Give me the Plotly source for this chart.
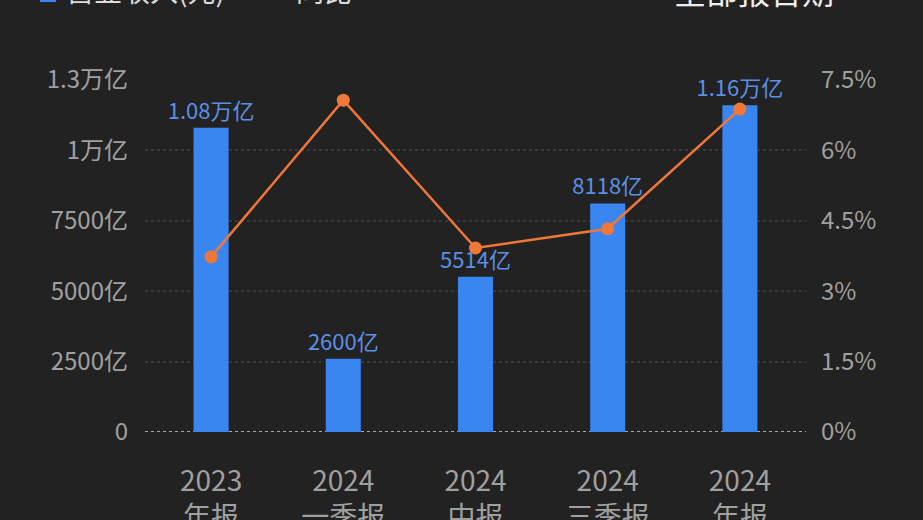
import plotly.graph_objects as go

categories = ["2023<br>年报", "2024<br>一季报", "2024<br>中报", "2024<br>三季报", "2024<br>年报"]
revenue = [10800, 2600, 5514, 8118, 11600]  # 亿元
revenue_labels = ["1.08万亿", "2600亿", "5514亿", "8118亿", "1.16万亿"]
yoy = [3.73, 7.07, 3.92, 4.33, 6.88]  # %

left_ticks = [0, 2500, 5000, 7500, 10000, 12500]
left_text = ["0", "2500亿", "5000亿", "7500亿", "1万亿", "1.3万亿"]
right_ticks = [0, 1.5, 3, 4.5, 6, 7.5]
right_text = ["0%", "1.5%", "3%", "4.5%", "6%", "7.5%"]

bg = "#222222"
blue = "#3a86f0"
orange = "#f0773a"
font_family = "Noto Sans CJK SC, Noto Sans, sans-serif"

fig = go.Figure()

fig.add_trace(go.Bar(
    x=categories,
    y=revenue,
    width=0.265,
    marker=dict(color=blue, line=dict(width=0)),
    text=revenue_labels,
    textposition="outside",
    constraintext="none",
    textfont=dict(color="#5a90e6", size=22, family=font_family),
    cliponaxis=False,
    name="营业收入(元)",
))

fig.add_trace(go.Scatter(
    x=categories,
    y=yoy,
    yaxis="y2",
    mode="lines+markers",
    line=dict(color=orange, width=2.5),
    marker=dict(color=orange, size=13),
    cliponaxis=False,
    name="同比",
))

# W = 923, plot area x 145..806, y 80..432
def px_x(p):
    return (p - 145) / 661.0

def px_y(p):
    return (432 - p) / 352.0

fig.update_layout(
    width=923,
    height=520,
    paper_bgcolor=bg,
    plot_bgcolor=bg,
    showlegend=False,
    margin=dict(l=145, r=117, t=80, b=88),
    font=dict(family=font_family, color="#9a9a9a", size=22),
    xaxis=dict(
        showgrid=False,
        zeroline=False,
        showline=False,
        ticks="",
        automargin=False,
        tickfont=dict(size=28, color="#a0a0a0"),
        ticklabelstandoff=30,
    ),
    yaxis=dict(
        range=[0, 12500],
        tickvals=left_ticks,
        ticktext=left_text,
        showgrid=True,
        gridcolor="#383838",
        griddash="dot",
        gridwidth=1.5,
        zeroline=False,
        showline=False,
        ticks="",
        automargin=False,
        ticklabelstandoff=16,
        tickfont=dict(size=24, color="#a0a0a0"),
    ),
    yaxis2=dict(
        range=[0, 7.5],
        tickvals=right_ticks,
        ticktext=right_text,
        overlaying="y",
        side="right",
        showgrid=False,
        zeroline=False,
        showline=False,
        ticks="",
        automargin=False,
        ticklabelstandoff=14,
        tickfont=dict(size=24, color="#a0a0a0"),
    ),
)

# dotted baseline
fig.add_shape(type="line", xref="paper", yref="y", x0=0, x1=1, y0=0, y1=0,
              line=dict(color="#a8a8a8", width=2, dash="dot"), layer="below")

# legend / header, cropped at the top of the picture
fig.add_shape(type="rect", xref="paper", yref="paper",
              x0=px_x(40), x1=px_x(56), y0=px_y(2), y1=px_y(-14),
              fillcolor=blue, line=dict(width=0))
fig.add_annotation(text="营业收入(元)", xref="paper", yref="paper",
                   x=px_x(64), y=px_y(-10), xanchor="left", yanchor="middle",
                   showarrow=False, font=dict(size=28, color="#dddddd"))
fig.add_annotation(text="同比", xref="paper", yref="paper",
                   x=px_x(294), y=px_y(-10), xanchor="left", yanchor="middle",
                   showarrow=False, font=dict(size=28, color="#dddddd"))
fig.add_annotation(text="全部报告期", xref="paper", yref="paper",
                   x=px_x(672), y=px_y(-10), xanchor="left", yanchor="middle",
                   showarrow=False, font=dict(size=32, color="#eeeeee"))

fig.write_html("out.html", config={"displayModeBar": False},
               post_script="document.body.style.margin='0';")
